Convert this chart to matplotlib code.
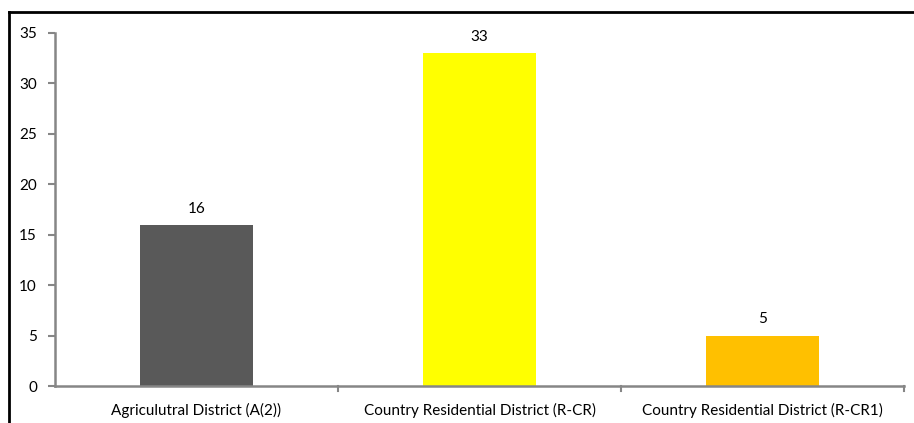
import matplotlib.pyplot as plt
from matplotlib.lines import Line2D

# zoning district counts
districts = ["Agriculutral District (A(2))",
             "Country Residential District (R-CR)",
             "Country Residential District (R-CR1)"]
counts = [16, 33, 5]
colors = ["#595959", "#FFFF00", "#FFC000"]
yticks = [0, 5, 10, 15, 20, 25, 30, 35]

W, H = 914, 423
fig = plt.figure(figsize=(W / 100, H / 100), dpi=100, facecolor="white")
plt.rcParams["font.family"] = ["Lato", "DejaVu Sans"]
fs = 11

ax = fig.add_axes([55 / W, 1 - 386 / H, (904 - 55) / W, (386 - 33) / H])
xs = list(range(len(districts)))
bars = ax.bar(xs, counts, width=0.40, color=colors)

for x, v in zip(xs, counts):
    ax.text(x, v + 0.9, str(v), ha="center", va="bottom", fontsize=fs)

grey = "#868686"
ax.set_xlim(-0.5, len(districts) - 0.5)
ax.set_ylim(0, 35)
ax.set_yticks(yticks)
ax.set_yticklabels([str(t) for t in yticks], fontsize=fs)
ax.set_xticks(xs)
ax.set_xticklabels(districts, fontsize=fs)
ax.tick_params(axis="x", length=0, pad=12)
ax.tick_params(axis="y", length=5, width=1.5, color=grey, pad=8)

# category separator ticks below the x axis
for b in [x + 0.5 for x in xs[:-1]] + [len(districts) - 0.5]:
    ax.plot([b, b], [0, -0.45], color=grey, lw=1.5, clip_on=False)

for side in ["top", "right"]:
    ax.spines[side].set_visible(False)
for side in ["left", "bottom"]:
    ax.spines[side].set_color(grey)
    ax.spines[side].set_linewidth(1.8)

# chart frame edges
fig.add_artist(Line2D([9 / W, 1], [1 - 12 / H, 1 - 12 / H], color="black", lw=2))
fig.add_artist(Line2D([9 / W, 9 / W], [0, 1 - 12 / H], color="black", lw=2))

fig.savefig("out.png", dpi=100)
